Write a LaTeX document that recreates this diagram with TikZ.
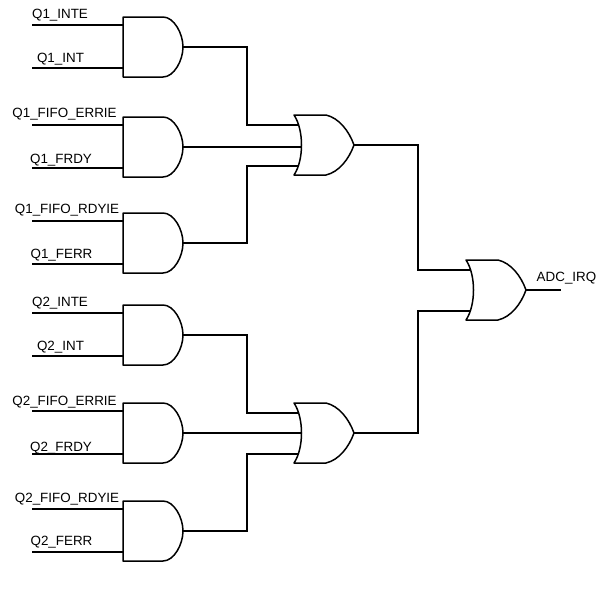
\documentclass[tikz,border=0pt]{standalone}
\usepackage{fontspec}
\setmainfont{Liberation Sans}
\begin{document}
\begin{tikzpicture}[x=1pt,y=-1pt,
  wire/.style={line width=1.5pt,line join=miter},
  gate/.style={line width=1.5pt,fill=white,line join=round},
  lbl/.style={anchor=base,inner sep=0pt,font=\fontsize{13.4}{15}\selectfont},
  andgate/.pic={
    \draw[gate] (0,0) -- (40,0) .. controls (51,0) and (60,16.6) .. (60,30)
      .. controls (60,43.4) and (51,60) .. (40,60) -- (0,60) -- cycle;
    \coordinate (-a) at (0,8);
    \coordinate (-b) at (0,51);
    \coordinate (-out) at (60,30);
  },
  orgate/.pic={
    \draw[gate] (0,0) -- (32,0) .. controls (45,3) and (55,16) .. (60,30)
      .. controls (55,44) and (45,57) .. (32,60) -- (0,60)
      .. controls (10,45) and (10,15) .. (0,0) -- cycle;
    \coordinate (-a) at (3.5,10);
    \coordinate (-b) at (7.5,30);
    \coordinate (-c) at (3.5,51);
    \coordinate (-out) at (60,30);
  }]
\useasboundingbox (0,0) rectangle (612,589);

% AND gates
\pic (g1) at (123,17) {andgate};
\pic (g2) at (123,117) {andgate};
\pic (g3) at (123,213) {andgate};
\pic (g4) at (123,305) {andgate};
\pic (g5) at (123,403) {andgate};
\pic (g6) at (123,501) {andgate};

% OR gates
\pic (o1) at (294,115) {orgate};
\pic (o2) at (294,403) {orgate};
\pic (o3) at (466,260) {orgate};

% helper coordinates
\coordinate (start) at (32,0);
\coordinate (j1) at (247,0);
\coordinate (j2) at (418,0);
\coordinate (adc) at (561,290);

% input wires
\foreach \g in {g1,g2,g3,g4,g5,g6}{
  \draw[wire] (\g-a -| start) -- (\g-a);
  \draw[wire] (\g-b -| start) -- (\g-b);
}

% labels
\node[lbl] (l1) at (60,18) {Q1\_INTE};
\node[lbl] (l2) at (60.5,62) {Q1\_INT};
\node[lbl] (l3) at (64.5,117) {Q1\_FIFO\_ERRIE};
\node[lbl] (l4) at (61,163) {Q1\_FRDY};
\node[lbl] (l5) at (67,213) {Q1\_FIFO\_RDYIE};
\node[lbl] (l6) at (61.5,258) {Q1\_FERR};
\node[lbl] (l7) at (60,306) {Q2\_INTE};
\node[lbl] (l8) at (60.5,350) {Q2\_INT};
\node[lbl] (l9) at (64.5,405) {Q2\_FIFO\_ERRIE};
\node[lbl] (l10) at (61,451) {Q2\_FRDY};
\node[lbl] (l11) at (67,502) {Q2\_FIFO\_RDYIE};
\node[lbl] (l12) at (61.5,545) {Q2\_FERR};
\node[lbl] (lout) at (566.5,281) {ADC\_IRQ};

% AND -> OR wiring
\draw[wire] (g1-out) -- (g1-out -| j1) -- (j1 |- o1-a) -- (o1-a);
\draw[wire] (g2-out) -- (g2-out -| o1-b);
\draw[wire] (g3-out) -- (g3-out -| j1) -- (j1 |- o1-c) -- (o1-c);
\draw[wire] (g4-out) -- (g4-out -| j1) -- (j1 |- o2-a) -- (o2-a);
\draw[wire] (g5-out) -- (g5-out -| o2-b);
\draw[wire] (g6-out) -- (g6-out -| j1) -- (j1 |- o2-c) -- (o2-c);

% OR -> OR wiring
\draw[wire] (o1-out) -- (o1-out -| j2) -- (j2 |- o3-a) -- (o3-a);
\draw[wire] (o2-out) -- (o2-out -| j2) -- (j2 |- o3-c) -- (o3-c);
\draw[wire] (o3-out) -- (adc);
\end{tikzpicture}
\end{document}
